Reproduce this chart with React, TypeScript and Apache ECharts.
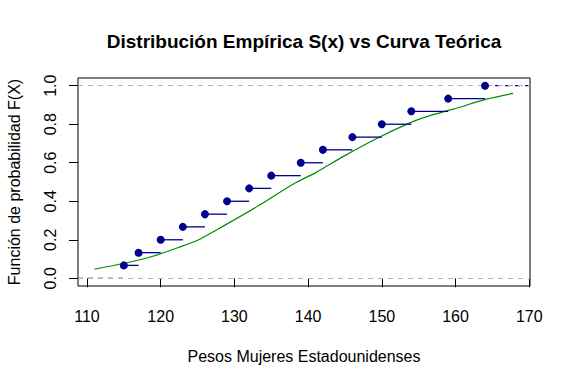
import React, { useEffect, useRef } from "react";
import * as echarts from "echarts";

const weights = [115, 117, 120, 123, 126, 129, 132, 135, 139, 142, 146, 150, 154, 159, 164];
const ecdfValues = [0.067, 0.133, 0.2, 0.267, 0.333, 0.4, 0.467, 0.533, 0.6, 0.667, 0.733, 0.8, 0.867, 0.933, 1.0];
const curveX = [111.0, 115.1, 118.7, 122.4, 125.3, 128.9, 133.4, 138.0, 141.1, 144.8, 149.3, 153.8, 156.5, 159.7, 164.2, 167.8];
const curveY = [0.047, 0.078, 0.112, 0.160, 0.203, 0.280, 0.380, 0.490, 0.550, 0.633, 0.726, 0.807, 0.845, 0.878, 0.930, 0.960];
const xTicks = [110, 120, 130, 140, 150, 160, 170];
const yTicks = [0, 0.2, 0.4, 0.6, 0.8, 1.0];
const X_MIN = 108.78;
const X_MAX = 170.1;
const Y_MIN = -0.04;
const Y_MAX = 1.04;

const FONT = '"Liberation Sans", Arial, sans-serif';
const BLUE = "#00008B";
const GREEN = "#008B00";
const GRAY = "#B3B3B3";

export default function App() {
  const ref = useRef<HTMLDivElement>(null);
  useEffect(() => {
    if (!ref.current) return;
    const chart = echarts.init(ref.current, null, { renderer: "svg" });

    const segments: number[][] = [];
    for (let i = 0; i < weights.length - 1; i++) {
      segments.push([weights[i], weights[i + 1], ecdfValues[i]]);
    }
    const dashed: number[][] = [
      [X_MIN, weights[0], 0],
      [weights[weights.length - 1], X_MAX, ecdfValues[ecdfValues.length - 1]],
    ];

    const segRender = (dash: boolean) => (params: any, api: any) => {
      const p1 = api.coord([api.value(0), api.value(2)]);
      const p2 = api.coord([api.value(1), api.value(2)]);
      return {
        type: "line",
        shape: { x1: p1[0], y1: p1[1], x2: p2[0], y2: p2[1] },
        style: { stroke: BLUE, lineWidth: 1.3, lineDash: dash ? [5, 5] : null },
      };
    };

    chart.setOption({
      animation: false,
      backgroundColor: "#ffffff",
      grid: {
        left: 78,
        right: 41,
        top: 78,
        bottom: 98,
        show: true,
        borderColor: "#000",
        borderWidth: 1,
        backgroundColor: "transparent",
        containLabel: false,
        outerBoundsMode: "none",
      },
      xAxis: {
        type: "value",
        min: X_MIN,
        max: X_MAX,
        axisLine: { show: false },
        splitLine: { show: false },
        axisTick: { show: true, length: 9, inside: false, customValues: xTicks, lineStyle: { color: "#000" } },
        axisLabel: {
          customValues: xTicks,
          fontSize: 16,
          fontFamily: FONT,
          color: "#000",
          margin: 22,
          formatter: (v: number) => String(Math.round(v)),
        },
      },
      yAxis: {
        type: "value",
        min: Y_MIN,
        max: Y_MAX,
        axisLine: { show: false },
        splitLine: { show: false },
        axisTick: { show: true, length: 9, inside: false, customValues: yTicks, lineStyle: { color: "#000" } },
        axisLabel: {
          customValues: yTicks,
          fontSize: 16,
          fontFamily: FONT,
          color: "#000",
          margin: 20,
          rotate: 90,
          formatter: (v: number) => v.toFixed(1),
        },
      },
      graphic: [
        {
          type: "text",
          x: 304,
          y: 41,
          style: {
            text: "Distribución Empírica S(x) vs Curva Teórica",
            font: `bold 19px ${FONT}`,
            fill: "#000",
            textAlign: "center",
            textVerticalAlign: "middle",
          },
        },
        {
          type: "text",
          x: 304,
          y: 356,
          style: {
            text: "Pesos Mujeres Estadounidenses",
            font: `16px ${FONT}`,
            fill: "#000",
            textAlign: "center",
            textVerticalAlign: "middle",
          },
        },
        {
          type: "text",
          x: 14,
          y: 182,
          rotation: Math.PI / 2,
          style: {
            text: "Función de probabilidad F(X)",
            font: `16px ${FONT}`,
            fill: "#000",
            textAlign: "center",
            textVerticalAlign: "middle",
          },
        },
      ],
      series: [
        {
          type: "line",
          data: [],
          silent: true,
          markLine: {
            silent: true,
            symbol: ["none", "none"],
            label: { show: false },
            lineStyle: { color: GRAY, type: [5, 5], width: 1 },
            data: [{ yAxis: 0 }, { yAxis: 1 }],
          },
        },
        {
          type: "line",
          data: curveX.map((x, i) => [x, curveY[i]]),
          showSymbol: false,
          smooth: 0.3,
          lineStyle: { color: GREEN, width: 1.2 },
          z: 3,
        },
        {
          type: "custom",
          data: segments,
          renderItem: segRender(false),
          z: 4,
        },
        {
          type: "custom",
          data: dashed,
          renderItem: segRender(true),
          z: 4,
        },
        {
          type: "scatter",
          data: weights.map((w, i) => [w, ecdfValues[i]]),
          symbol: "circle",
          symbolSize: 8,
          itemStyle: { color: BLUE, opacity: 1 },
          z: 5,
        },
      ],
    });
    return () => chart.dispose();
  }, []);
  return (
    <div
      ref={ref}
      style={{ position: "fixed", left: 0, top: 0, width: 571, height: 384 }}
    />
  );
}
